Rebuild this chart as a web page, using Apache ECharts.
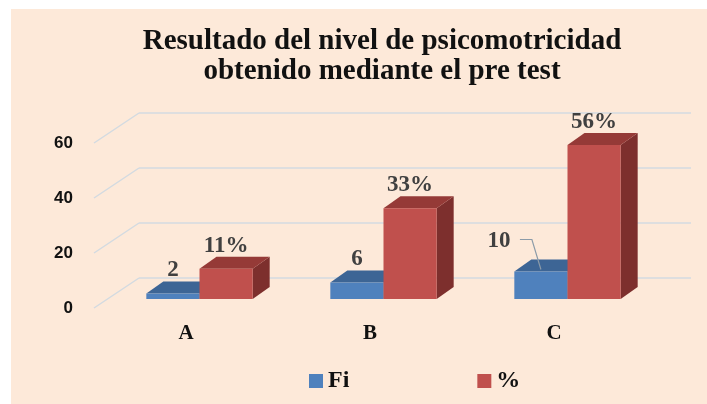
<!DOCTYPE html>
<html>
<head>
<meta charset="utf-8">
<script src="https://cdn.jsdelivr.net/npm/echarts@6/dist/echarts.min.js"></script>
<style>
  html, body { margin: 0; padding: 0; background: #ffffff; }
  #bg { position: absolute; left: 11px; top: 9px; right: 0; bottom: 0; background: #FDE9D9; }
  #chart { position: absolute; left: 0; top: 0; width: 707px; height: 404px; }
</style>
</head>
<body>
<div id="bg"></div>
<div id="chart"></div>
<script>
// ---- data ----
const categories = ['A', 'B', 'C'];
const fiValues = [2, 6, 10];
const pctValues = [11, 33, 56];
const yTicks = [0, 20, 40, 60];
const seriesNames = ['Fi', '%'];

// ---- style ----
const BLUE = { front: '#4F81BD', top: '#3D6595', side: '#35577F' };
const RED = { front: '#C0504D', top: '#953A37', side: '#7D2F2D' };
const GRID_W = 552, GRID_H = 165;
const BAR_DEPTH = [17, -12];
const WALL_DEPTH = [45, -30];
const LABEL_FONT = { fontFamily: '"Liberation Serif", serif', fontWeight: 'bold', fontSize: 23 };
const LABEL_COLOR = '#404040';
const fiLabelShift = { 2: [-42, -7] }; // leader-line label for category C

const chart = echarts.init(document.getElementById('chart'), null, { renderer: 'canvas' });

function makeBarRender(which, colors, suffix) {
  return function (params, api) {
    const ci = api.value(0);
    const v = api.value(1);
    const top = api.coord([ci, v]);
    const base = api.coord([ci, 0]);
    const band = api.size([1, 0])[0];
    const bw = band * 0.289;
    const x0 = which === 0 ? top[0] - bw : top[0];
    const x1 = x0 + bw;
    const ty = top[1], by = base[1];
    const dx = BAR_DEPTH[0], dy = BAR_DEPTH[1];
    const children = [
      { type: 'polygon', shape: { points: [[x1, ty], [x1 + dx, ty + dy], [x1 + dx, by + dy], [x1, by]] },
        style: { fill: colors.side } },
      { type: 'polygon', shape: { points: [[x0, ty], [x1, ty], [x1 + dx, ty + dy], [x0 + dx, ty + dy]] },
        style: { fill: colors.top } },
      { type: 'rect', shape: { x: x0, y: ty, width: bw, height: by - ty },
        style: { fill: colors.front } }
    ];
    const cx = x0 + bw / 2;
    let lx = cx, ly = ty + dy - 11;
    const shift = which === 0 ? fiLabelShift[params.dataIndex] : null;
    if (shift) {
      lx = cx + shift[0];
      ly = ly + shift[1];
      children.push({
        type: 'polyline',
        shape: { points: [[lx + 21, ly - 2], [lx + 33, ly - 2], [cx, ty - 2]] },
        style: { stroke: '#8C9BA8', lineWidth: 1.2, fill: null }
      });
    }
    children.push({
      type: 'text',
      style: Object.assign({
        text: v + suffix, x: lx, y: ly, align: 'center', verticalAlign: 'middle', fill: LABEL_COLOR
      }, LABEL_FONT)
    });
    return { type: 'group', children: children };
  };
}

function wallRender(params, api) {
  const v = api.value(1);
  const y = api.coord([0, v])[1];
  const x = params.coordSys.x;
  return {
    type: 'line',
    shape: { x1: x, y1: y, x2: x - WALL_DEPTH[0], y2: y - WALL_DEPTH[1] },
    style: { stroke: '#D3DAE1', lineWidth: 1.5 }
  };
}

function yAxisBase(i, extra) {
  return Object.assign({
    type: 'value', gridIndex: i, min: 0, max: 60, interval: 20,
    axisLine: { show: false }, axisTick: { show: false },
    splitLine: { show: false }, axisLabel: { show: false }
  }, extra || {});
}
function xAxisBase(i, extra) {
  return Object.assign({
    type: 'category', gridIndex: i, data: categories, boundaryGap: true,
    axisLine: { show: false }, axisTick: { show: false },
    splitLine: { show: false }, axisLabel: { show: false }
  }, extra || {});
}

const option = {
  animation: false,
  backgroundColor: 'transparent',
  title: {
    text: 'Resultado del nivel de psicomotricidad\nobtenido mediante el pre test',
    left: 377, top: 22, textAlign: 'center',
    textStyle: { fontFamily: '"Liberation Serif", serif', fontWeight: 'bold', fontSize: 29, lineHeight: 30, color: '#111111' }
  },
  legend: {
    data: seriesNames,
    left: 309, top: 369, padding: 0,
    icon: 'rect', itemWidth: 14, itemHeight: 14, itemGap: 128,
    textStyle: { fontFamily: '"Liberation Serif", serif', fontWeight: 'bold', fontSize: 24, lineHeight: 24, color: '#111111' }
  },
  grid: [
    { left: 139, top: 113, width: GRID_W, height: GRID_H },        // back wall
    { left: 107.5, top: 134, width: GRID_W, height: GRID_H },      // bar plane
    { left: 94, top: 143, width: GRID_W, height: GRID_H }          // front plane (labels)
  ],
  xAxis: [
    xAxisBase(0),
    xAxisBase(1),
    xAxisBase(2, { axisLabel: { show: true, margin: 15, color: '#111111',
      fontFamily: '"Liberation Serif", serif', fontWeight: 'bold', fontSize: 21 } })
  ],
  yAxis: [
    yAxisBase(0, { splitLine: { show: true, lineStyle: { color: '#D3DAE1', width: 1.5 } } }),
    yAxisBase(1),
    yAxisBase(2, { axisLabel: { show: true, margin: 21, color: '#111111',
      fontFamily: '"Liberation Sans", sans-serif', fontWeight: 'bold', fontSize: 17 } })
  ],
  series: [
    {
      type: 'custom', name: 'wall', xAxisIndex: 0, yAxisIndex: 0, silent: true,
      data: yTicks.map(v => [0, v]), renderItem: wallRender, encode: { x: 0, y: 1 }
    },
    {
      type: 'custom', name: seriesNames[0], xAxisIndex: 1, yAxisIndex: 1,
      itemStyle: { color: BLUE.front },
      data: fiValues.map((v, i) => [i, v]), encode: { x: 0, y: 1 },
      renderItem: makeBarRender(0, BLUE, '')
    },
    {
      type: 'custom', name: seriesNames[1], xAxisIndex: 1, yAxisIndex: 1,
      itemStyle: { color: RED.front },
      data: pctValues.map((v, i) => [i, v]), encode: { x: 0, y: 1 },
      renderItem: makeBarRender(1, RED, '%')
    }
  ]
};
chart.setOption(option);
</script>
</body>
</html>
